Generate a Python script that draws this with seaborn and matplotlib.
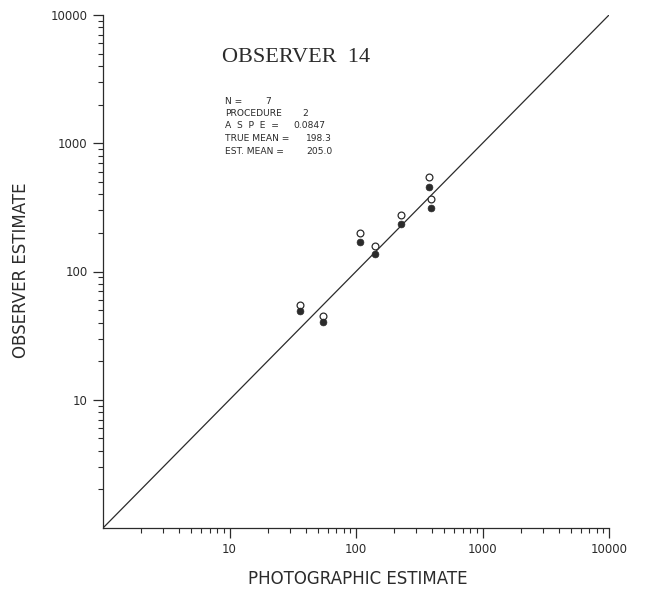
import matplotlib
matplotlib.use("Agg")
import matplotlib.pyplot as plt
import seaborn as sns
import pandas as pd
from matplotlib.ticker import LogLocator, FixedLocator, FixedFormatter, NullFormatter

# Photographic counts vs. observer estimates for each sample
photo_estimate = [36, 54.5, 108, 142, 225, 380, 392]
observer_filled = [49.5, 40.5, 171, 137.5, 236, 459, 315]
observer_open = [54.5, 45, 198, 157.5, 275, 550, 370]

identity = [1, 10000]

major_ticks = [10, 100, 1000, 10000]
major_labels = ["10", "100", "1000", "10000"]

title_text = "OBSERVER  14"
stat_labels = ["N =", "PROCEDURE", "A  S  P  E  =", "TRUE MEAN =", "EST. MEAN ="]
stat_values = ["7", "2", "0.0847", "198.3", "205.0"]

sns.set_style("white")
plt.rcParams["font.family"] = ["DejaVu Sans"]

ink = "#2b2b2b"
W, H = 648, 591
fig = plt.figure(figsize=(W / 100, H / 100), dpi=100)
ax = fig.add_axes([103 / W, 63 / H, 506 / W, 513 / H])

df = pd.DataFrame({"photo": photo_estimate,
                   "filled": observer_filled,
                   "open": observer_open})

sns.lineplot(x=identity, y=identity, ax=ax, color=ink, linewidth=0.9)
sns.scatterplot(data=df, x="photo", y="open", ax=ax, marker="o", s=24,
                facecolor="white", edgecolor=ink, linewidth=0.9, zorder=3)
sns.scatterplot(data=df, x="photo", y="filled", ax=ax, marker="o", s=24,
                color=ink, edgecolor=ink, linewidth=0.5, zorder=4)

ax.set_xscale("log")
ax.set_yscale("log")
ax.set_xlim(1, 10000)
ax.set_ylim(1, 10000)

for axis in (ax.xaxis, ax.yaxis):
    axis.set_major_locator(FixedLocator(major_ticks))
    axis.set_major_formatter(FixedFormatter(major_labels))
    axis.set_minor_locator(LogLocator(base=10, subs=range(2, 10), numticks=20))
    axis.set_minor_formatter(NullFormatter())

ax.tick_params(which="major", direction="out", length=7, width=0.9,
               color=ink, labelcolor=ink, labelsize=8.5, pad=4)
ax.tick_params(which="minor", direction="out", length=3.5, width=0.8, color=ink)
ax.tick_params(axis="x", which="both", bottom=True)
ax.tick_params(axis="y", which="both", left=True)

sns.despine(ax=ax)
for side in ("left", "bottom"):
    ax.spines[side].set_color(ink)
    ax.spines[side].set_linewidth(0.9)

ax.set_xlabel("PHOTOGRAPHIC ESTIMATE", fontsize=12, color=ink)
ax.set_ylabel("OBSERVER ESTIMATE", fontsize=12, color=ink)
ax.xaxis.set_label_coords(0.504, -0.082)
ax.yaxis.set_label_coords(-0.145, 0.503)

def fx(px):
    return px / W

def fy(py):
    return 1 - py / H

fig.text(fx(222), fy(58), title_text, family="Liberation Serif",
         fontsize=16, color=ink, va="center", ha="left")

row_y = [101, 113.5, 126, 138.5, 151]
value_x = [265, 302, 293, 306, 306]
for lab, val, y, vx in zip(stat_labels, stat_values, row_y, value_x):
    fig.text(fx(225), fy(y), lab, fontsize=6.6, color=ink, va="center", ha="left")
    fig.text(fx(vx), fy(y), val, fontsize=6.6, color=ink, va="center", ha="left")

fig.savefig("out.png", dpi=100, facecolor="white")
